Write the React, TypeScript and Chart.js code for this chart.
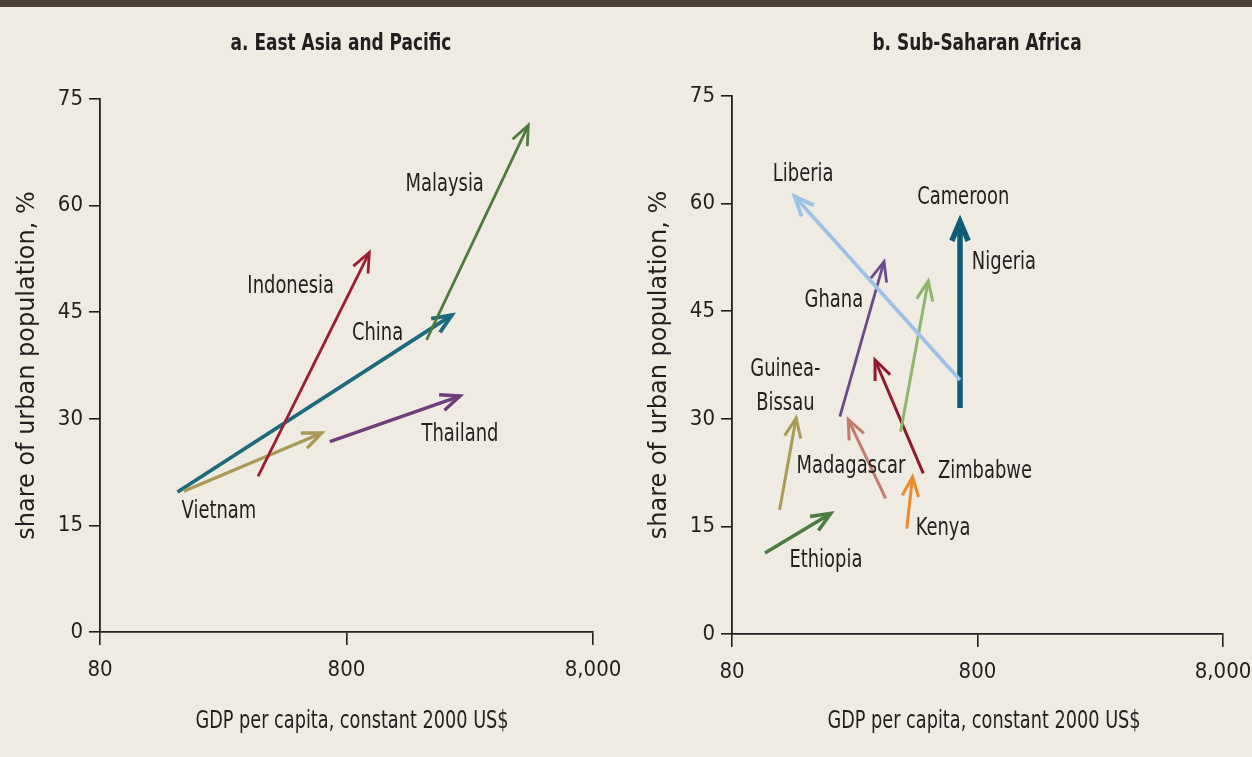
import React, { useEffect, useRef } from "react";
import { Chart, registerables } from "chart.js";

Chart.register(...registerables);

// ---------- axes ----------
const xTickValues = [80, 800, 8000];
const yTickValues = [0, 15, 30, 45, 60, 75];
const xAxisTitle = "GDP per capita, constant 2000 US$";
const yAxisTitle = "share of urban population, %";

// ---------- a. East Asia and Pacific ----------
const eapTitle = "a. East Asia and Pacific";
const eapCountries = ["Malaysia", "Indonesia", "Vietnam", "China", "Thailand"];
const eapGdpStart = [1690, 350, 175, 165, 685];
const eapGdpEnd = [4370, 990, 635, 2140, 2310];
const eapUrbanStart = [41.1, 21.9, 19.8, 19.7, 26.8];
const eapUrbanEnd = [71.3, 53.4, 28.0, 44.6, 33.2];
const eapLabels = ["Malaysia", "Indonesia", "China", "Thailand", "Vietnam"];
const eapLabelGdp = [2002, 475, 1069, 2310, 243];
const eapLabelUrban = [63.2, 48.8, 42.2, 28.0, 17.2];
const eapColors = ["#4f7b3c", "#9c1c30", "#a99b56", "#1c6a7b", "#6d3e7b"];
const eapWidths = [2.8, 2.8, 3.4, 3.8, 3.4];

// ---------- b. Sub-Saharan Africa ----------
const ssaTitle = "b. Sub-Saharan Africa";
const ssaCountries = ["Liberia", "Cameroon", "Ghana", "Nigeria", "Zimbabwe", "Madagascar", "Guinea-Bissau", "Kenya", "Ethiopia"];
const ssaGdpStart = [679, 679, 220, 389, 481, 338, 125, 412, 109];
const ssaGdpEnd = [144, 679, 333, 504, 306, 238, 146, 435, 202];
const ssaUrbanStart = [35.4, 31.5, 30.3, 28.2, 22.4, 18.9, 17.3, 14.7, 11.3];
const ssaUrbanEnd = [61.0, 57.5, 51.9, 49.2, 38.2, 29.9, 30.1, 21.9, 16.8];
const ssaLabels = ["Liberia", "Cameroon", "Nigeria", "Ghana", "Guinea-\nBissau", "Madagascar", "Zimbabwe", "Kenya", "Ethiopia"];
const ssaLabelGdp = [156, 700, 1025, 208, 132, 244, 858, 579, 193];
const ssaLabelUrban = [64.3, 61.1, 52.0, 46.7, 34.7, 23.6, 22.9, 14.9, 10.5];
const ssaColors = ["#9dc2e6", "#0f5d74", "#6b4a8b", "#8fb66e", "#8e1b2c", "#c27d6d", "#a99b56", "#ec8a2c", "#4b7c42"];
const ssaWidths = [3.8, 5.5, 2.8, 3.0, 3.0, 3.0, 3.0, 3.0, 3.6];

// ---------- style ----------
const INK = "#231f20";
const BG = "#efebe2";
const NARROW = "'DejaVu Sans Condensed', 'DejaVu Sans', sans-serif";
const WIDE = "'DejaVu Sans', Verdana, sans-serif";
const SQUEEZE = 0.83;

type Panel = {
  title: string;
  countries: string[];
  gdpStart: number[];
  gdpEnd: number[];
  urbanStart: number[];
  urbanEnd: number[];
  labels: string[];
  labelGdp: number[];
  labelUrban: number[];
  colors: string[];
  widths: number[];
  width: number;
  padTop: number;
  padRight: number;
  xAxisHeight: number;
  titleX: number;
};

const panels: Panel[] = [
  {
    title: eapTitle, countries: eapCountries, gdpStart: eapGdpStart, gdpEnd: eapGdpEnd,
    urbanStart: eapUrbanStart, urbanEnd: eapUrbanEnd, labels: eapLabels, labelGdp: eapLabelGdp,
    labelUrban: eapLabelUrban, colors: eapColors, widths: eapWidths,
    width: 626, padTop: 99, padRight: 33, xAxisHeight: 125, titleX: 341,
  },
  {
    title: ssaTitle, countries: ssaCountries, gdpStart: ssaGdpStart, gdpEnd: ssaGdpEnd,
    urbanStart: ssaUrbanStart, urbanEnd: ssaUrbanEnd, labels: ssaLabels, labelGdp: ssaLabelGdp,
    labelUrban: ssaLabelUrban, colors: ssaColors, widths: ssaWidths,
    width: 620, padTop: 96, padRight: 29, xAxisHeight: 123, titleX: 345,
  },
];

const arrowHeads = {
  id: "arrowHeads",
  afterDatasetDraw(chart: any, args: any) {
    const pts = args.meta.data;
    if (!pts || pts.length < 2) return;
    const a = pts[0];
    const b = pts[1];
    const ds = chart.data.datasets[args.index];
    const ang = Math.atan2(b.y - a.y, b.x - a.x);
    const len = 21;
    const spread = 0.4;
    const ctx = chart.ctx;
    ctx.save();
    ctx.strokeStyle = ds.borderColor;
    ctx.lineWidth = ds.borderWidth;
    ctx.lineCap = "butt";
    ctx.lineJoin = "miter";
    ctx.beginPath();
    ctx.moveTo(b.x - len * Math.cos(ang - spread), b.y - len * Math.sin(ang - spread));
    ctx.lineTo(b.x, b.y);
    ctx.lineTo(b.x - len * Math.cos(ang + spread), b.y - len * Math.sin(ang + spread));
    ctx.stroke();
    ctx.restore();
  },
};

function squeezedText(ctx: CanvasRenderingContext2D, text: string, x: number, y: number, sx: number) {
  ctx.save();
  ctx.translate(x, y);
  ctx.scale(sx, 1);
  ctx.fillText(text, 0, 0);
  ctx.restore();
}

function makeTextPlugin(p: Panel) {
  return {
    id: "panelText",
    afterDraw(chart: any) {
      const ctx = chart.ctx;
      const xs = chart.scales.x;
      const ys = chart.scales.y;
      ctx.save();
      ctx.fillStyle = INK;
      ctx.textAlign = "center";
      // panel title
      ctx.font = `bold 23px ${NARROW}`;
      ctx.textBaseline = "middle";
      squeezedText(ctx, p.title, p.titleX, 44, 0.82);
      // x axis title
      ctx.font = `24px ${NARROW}`;
      ctx.textBaseline = "alphabetic";
      squeezedText(ctx, xAxisTitle, 352, 728, 0.82);
      // y axis title
      ctx.save();
      ctx.translate(34, (chart.chartArea.top + chart.chartArea.bottom) / 2);
      ctx.rotate(-Math.PI / 2);
      ctx.font = `24px ${WIDE}`;
      ctx.fillText(yAxisTitle, 0, 0);
      ctx.restore();
      // country labels
      ctx.font = `24px ${NARROW}`;
      ctx.textBaseline = "middle";
      p.labels.forEach((t, i) => {
        const px = xs.getPixelForValue(p.labelGdp[i]);
        const py = ys.getPixelForValue(p.labelUrban[i]) + 2;
        const lines = t.split("\n");
        lines.forEach((ln, k) => {
          squeezedText(ctx, ln, px, py + (k - (lines.length - 1) / 2) * 34, SQUEEZE);
        });
      });
      ctx.restore();
    },
  };
}

function buildConfig(p: Panel): any {
  const datasets = p.countries.map((name, i) => ({
    label: name,
    data: [
      { x: p.gdpStart[i], y: p.urbanStart[i] },
      { x: p.gdpEnd[i], y: p.urbanEnd[i] },
    ],
    showLine: true,
    borderColor: p.colors[i],
    backgroundColor: p.colors[i],
    borderWidth: p.widths[i],
    borderCapStyle: "butt",
    pointRadius: 0,
    pointHoverRadius: 0,
    fill: false,
  }));
  return {
    type: "scatter",
    data: { datasets },
    options: {
      responsive: false,
      animation: false,
      devicePixelRatio: 1,
      events: [],
      layout: { padding: { top: p.padTop, right: p.padRight, left: 0, bottom: 0 } },
      plugins: {
        legend: { display: false },
        tooltip: { enabled: false },
        title: { display: false },
      },
      scales: {
        x: {
          type: "logarithmic",
          min: 80,
          max: 8000,
          afterBuildTicks: (s: any) => {
            s.ticks = xTickValues.map((v) => ({ value: v }));
          },
          afterFit: (s: any) => {
            s.height = p.xAxisHeight;
            s.paddingLeft = 0;
            s.paddingRight = 0;
          },
          ticks: {
            callback: (v: any) => Number(v).toLocaleString("en-US"),
            font: { family: NARROW, size: 22 },
            color: INK,
            padding: 12,
            maxRotation: 0,
            autoSkip: false,
          },
          grid: { drawOnChartArea: false, drawTicks: true, tickLength: 13, color: INK, lineWidth: 1.6 },
          border: { display: true, color: INK, width: 1.8 },
        },
        y: {
          type: "linear",
          min: 0,
          max: 75,
          afterBuildTicks: (s: any) => {
            s.ticks = yTickValues.map((v) => ({ value: v }));
          },
          afterFit: (s: any) => {
            s.width = 100;
            s.paddingTop = 0;
            s.paddingBottom = 0;
          },
          ticks: {
            font: { family: NARROW, size: 22 },
            color: INK,
            padding: 6,
          },
          grid: { drawOnChartArea: false, drawTicks: true, tickLength: 11, color: INK, lineWidth: 1.6 },
          border: { display: true, color: INK, width: 1.8 },
        },
      },
    },
    plugins: [arrowHeads, makeTextPlugin(p)],
  };
}

function PanelChart({ panel, left }: { panel: Panel; left: number }) {
  const ref = useRef<HTMLCanvasElement | null>(null);
  useEffect(() => {
    if (!ref.current) return;
    const chart = new Chart(ref.current, buildConfig(panel));
    return () => chart.destroy();
  }, [panel]);
  return (
    <canvas
      ref={ref}
      width={panel.width}
      height={757}
      style={{ position: "absolute", left, top: 0, width: panel.width, height: 757 }}
    />
  );
}

export default function App() {
  return (
    <div
      style={{
        position: "fixed",
        left: 0,
        top: 0,
        width: 1252,
        height: 757,
        background: BG,
        overflow: "hidden",
      }}
    >
      <div style={{ position: "absolute", left: 0, top: 0, width: 1252, height: 7, background: "#4a4035" }} />
      <PanelChart panel={panels[0]} left={0} />
      <PanelChart panel={panels[1]} left={632} />
    </div>
  );
}
